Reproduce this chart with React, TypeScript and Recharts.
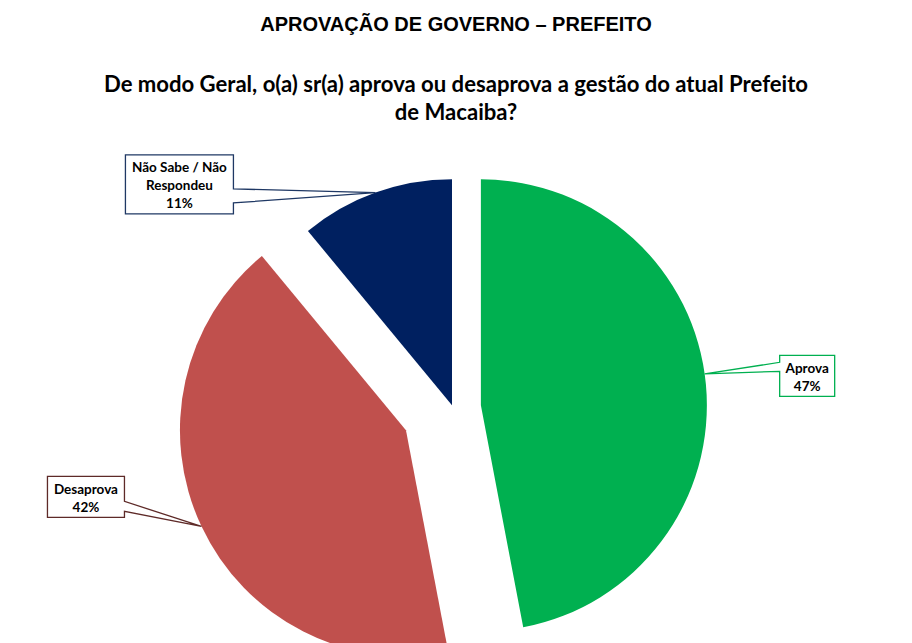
import React from 'react';
import { PieChart, Pie, Cell } from 'recharts';

const categories = ['Aprova', 'Desaprova', 'Não Sabe / Não Respondeu'];
const values = [47, 42, 11];
const labelLines = [['Aprova'], ['Desaprova'], ['Não Sabe / Não', 'Respondeu']];
const colors = ['#00B050', '#C0504D', '#002060'];
const borderColors = ['#00B050', '#5E2A28', '#1F3864'];

const data = categories.map((name, i) => ({ name, value: values[i] }));

const W = 912;
const H = 643;
const CX = 453;
const CY = 408;
const R = 226;
const explode = [28, 52, 3];
const RAD = Math.PI / 180;

// callout layout relative to pointer tip
const callouts = [
  { side: 'left', da: 2.6, dx: 75, dy: -18.6, w: 55, h: 41, b1: 7, b2: 16 },
  { side: 'right', da: 0, dx: -154, dy: -50, w: 77, h: 41, b1: 25, b2: 35 },
  { side: 'right', da: 0, dx: -250, dy: -37.6, w: 108, h: 59, b1: 34, b2: 48 },
];

const total = values.reduce((a, b) => a + b, 0);
const midAngles = values.map((v, i) => {
  const cum = values.slice(0, i).reduce((a, b) => a + b, 0);
  return 90 - (360 * (cum + v / 2)) / total;
});

function makeLabel(target: number) {
  return (props: any) => {
    if (props.index !== target) return null;
    const c = callouts[target];
    const mid = (props.midAngle ?? midAngles[target]) + c.da;
    const cx = typeof props.cx === 'number' ? props.cx : CX;
    const cy = typeof props.cy === 'number' ? props.cy : CY;
    const r = props.outerRadius ?? R;
    const tx = cx + r * Math.cos(mid * RAD);
    const ty = cy - r * Math.sin(mid * RAD);
    const x = tx + c.dx;
    const y = ty + c.dy;
    let d: string;
    if (c.side === 'left') {
      d = `M${x},${y} L${x + c.w},${y} L${x + c.w},${y + c.h} L${x},${y + c.h} L${x},${y + c.b2} L${tx},${ty} L${x},${y + c.b1} Z`;
    } else {
      d = `M${x},${y} L${x + c.w},${y} L${x + c.w},${y + c.b1} L${tx},${ty} L${x + c.w},${y + c.b2} L${x + c.w},${y + c.h} L${x},${y + c.h} Z`;
    }
    const lines = [...labelLines[target], `${values[target]}%`];
    const lh = 18;
    const startY = y + c.h / 2 + 1 - ((lines.length - 1) * lh) / 2;
    return (
      <g>
        <path d={d} fill="#fff" stroke={borderColors[target]} strokeWidth={1.3} />
        {lines.map((t, k) => (
          <text
            key={k}
            x={x + c.w / 2}
            y={startY + k * lh}
            textAnchor="middle"
            dominantBaseline="central"
            fontFamily="Lato, 'Open Sans', sans-serif"
            fontWeight={700}
            fontSize={13.5}
            fill="#000"
          >
            {t}
          </text>
        ))}
      </g>
    );
  };
}

export default function App() {
  return (
    <div style={{ position: 'absolute', left: 0, top: 0, width: W, height: H, background: '#fff', overflow: 'hidden' }}>
      <div
        style={{
          position: 'absolute',
          left: 0,
          width: W,
          top: 12,
          textAlign: 'center',
          fontFamily: "'Liberation Sans', Arial, sans-serif",
          fontWeight: 700,
          fontSize: 20,
          lineHeight: '24px',
          color: '#000',
        }}
      >
        APROVAÇÃO DE GOVERNO – PREFEITO
      </div>
      <div
        style={{
          position: 'absolute',
          left: 0,
          width: W,
          top: 70,
          textAlign: 'center',
          fontFamily: "Lato, 'Open Sans', sans-serif",
          fontWeight: 700,
          fontSize: 22.1,
          lineHeight: '28px',
          color: '#000',
        }}
      >
        De modo Geral, o(a) sr(a) aprova ou desaprova a gestão do atual Prefeito
        <br />
        de Macaiba?
      </div>
      <div style={{ position: 'absolute', left: 0, top: 0 }}>
        <PieChart width={W} height={H} margin={{ top: 0, right: 0, bottom: 0, left: 0 }}>
          {categories.map((_, i) => (
            <Pie
              key={i}
              data={data}
              dataKey="value"
              nameKey="name"
              cx={CX + explode[i] * Math.cos(midAngles[i] * RAD)}
              cy={CY - explode[i] * Math.sin(midAngles[i] * RAD)}
              outerRadius={R}
              startAngle={90}
              endAngle={-270}
              stroke="none"
              isAnimationActive={false}
              label={makeLabel(i)}
              labelLine={false}
            >
              {data.map((d, k) => (
                <Cell key={k} fill={k === i ? colors[k] : 'transparent'} stroke="none" />
              ))}
            </Pie>
          ))}
        </PieChart>
      </div>
    </div>
  );
}
